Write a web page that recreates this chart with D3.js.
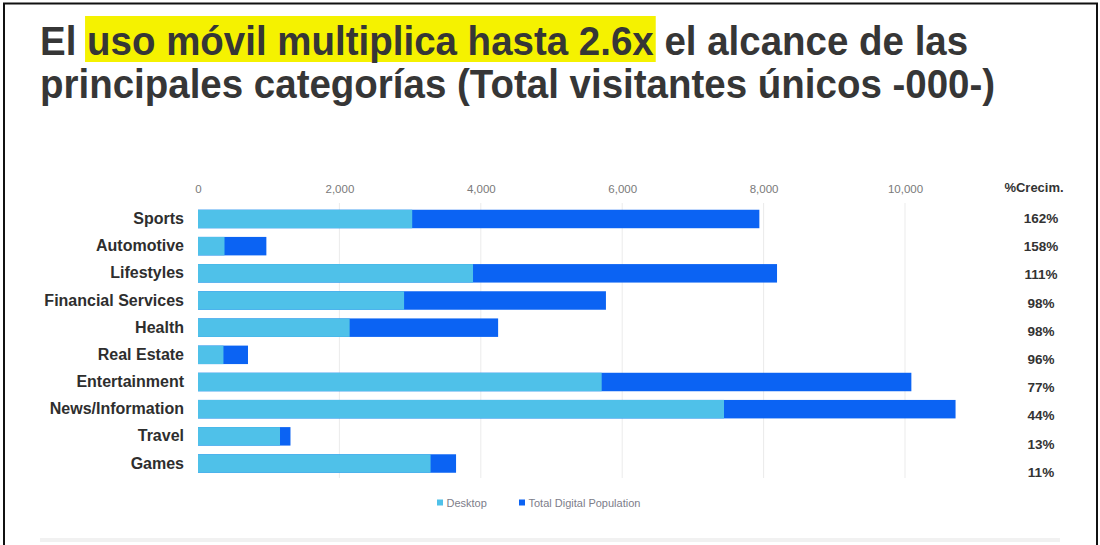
<!DOCTYPE html>
<html>
<head>
<meta charset="utf-8">
<script src="https://cdn.jsdelivr.net/npm/d3@7/dist/d3.min.js"></script>
<style>
  html, body { margin: 0; padding: 0; background: #fff; }
  svg { display: block; }
</style>
</head>
<body>
<svg id="chart" width="1100" height="545"></svg>
<script>
// Categories, top to bottom
const categories = [
  "Sports", "Automotive", "Lifestyles", "Financial Services", "Health",
  "Real Estate", "Entertainment", "News/Information", "Travel", "Games"
];
// Unique visitors (000) reached on desktop only
const desktop = [3030, 375, 3890, 2915, 2145, 360, 5710, 7440, 1160, 3290];
// Unique visitors (000) across the total digital population
const totalDigital = [7940, 967, 8190, 5770, 4245, 707, 10090, 10715, 1308, 3650];
// Growth from desktop to total digital
const growth = ["162%", "158%", "111%", "98%", "98%", "96%", "77%", "44%", "13%", "11%"];
const xTicks = [0, 2000, 4000, 6000, 8000, 10000];
const seriesNames = ["Desktop", "Total Digital Population"];
const titleLine1 = ["El ", "uso móvil multiplica hasta 2.6x", " el alcance de las"];
const titleLine2 = "principales categorías (Total visitantes únicos -000-)";
const growthHeader = "%Crecim.";

const colors = { desktop: "#4fc1e9", total: "#0b63f3" };
const font = "'Liberation Sans', Arial, Helvetica, sans-serif";

const svg = d3.select("#chart");

// Slide frame
svg.append("path")
  .attr("d", "M4,548 V3.5 H1097 V548")
  .attr("fill", "none")
  .attr("stroke", "#111")
  .attr("stroke-width", 2);

// Faint separator at the foot of the slide
svg.append("rect")
  .attr("x", 40).attr("y", 538).attr("width", 1020).attr("height", 4)
  .attr("fill", "#f1f1f1");

// ---- Title ----
const title = svg.append("g").attr("font-family", font).attr("font-weight", "bold").attr("fill", "#363636");
const hlRect = title.append("rect").attr("fill", "#f5f200");
const stretchY = 1.08;
const t1 = title.append("text").attr("x", 0).attr("y", 0).attr("font-size", 36)
  .attr("transform", `translate(40,55) scale(1,${stretchY})`);
t1.selectAll("tspan").data(titleLine1).join("tspan").text(d => d);
// fit the first line to its width on the slide
const w1 = t1.node().getComputedTextLength();
const fs = 36 * 928 / w1;
t1.attr("font-size", fs);
title.append("text").attr("x", 0).attr("y", 0).attr("font-size", fs)
  .attr("transform", `translate(40,98) scale(1,${stretchY})`)
  .text(titleLine2);
// yellow highlight behind the key phrase
const n0 = titleLine1[0].length, n1 = titleLine1[1].length;
const hx0 = 40 + t1.node().getSubStringLength(0, n0);
const hw = t1.node().getSubStringLength(n0, n1);
hlRect.attr("x", hx0 - 2).attr("y", 16).attr("width", hw + 4).attr("height", 46);

// ---- Scales ----
const x = d3.scaleLinear().domain([0, 10000]).range([198, 905]);
const y = d3.scaleBand().domain(categories).range([205.4, 477.1])
  .paddingInner(0.32).paddingOuter(0.16);
const yGrowth = d3.scalePoint().domain(categories).range([218, 472]);

// Gridlines
svg.append("g").selectAll("line")
  .data(xTicks.filter(d => d > 0))
  .join("line")
  .attr("x1", d => x(d)).attr("x2", d => x(d))
  .attr("y1", 203).attr("y2", 478)
  .attr("stroke", "#ebebeb").attr("stroke-width", 1);

// Tick labels along the top
const xAxis = svg.append("g")
  .attr("transform", "translate(0,193)")
  .call(d3.axisTop(x).tickValues(xTicks).tickSize(0).tickPadding(0).tickFormat(d3.format(",")));
xAxis.select(".domain").remove();
xAxis.selectAll("text")
  .attr("font-family", font).attr("font-size", 11.5).attr("fill", "#7a7a7a");

// Category labels
const yAxis = svg.append("g")
  .attr("transform", "translate(184,0)")
  .call(d3.axisLeft(y).tickSize(0).tickPadding(0));
yAxis.select(".domain").remove();
yAxis.selectAll("text")
  .attr("font-family", font).attr("font-size", 16).attr("font-weight", "bold")
  .attr("fill", "#2e2e2e");

// Bars: total digital population behind, desktop share in front
const rows = categories.map((c, i) => ({ c, d: desktop[i], t: totalDigital[i], g: growth[i] }));
svg.append("g").selectAll("rect")
  .data(rows).join("rect")
  .attr("x", x(0)).attr("y", r => y(r.c))
  .attr("width", r => x(r.t) - x(0)).attr("height", y.bandwidth())
  .attr("fill", colors.total);
svg.append("g").selectAll("rect")
  .data(rows).join("rect")
  .attr("x", x(0)).attr("y", r => y(r.c))
  .attr("width", r => x(r.d) - x(0)).attr("height", y.bandwidth())
  .attr("fill", colors.desktop);

// Growth column
const gcol = svg.append("g").attr("font-family", font).attr("font-weight", "bold").attr("fill", "#333");
gcol.append("text").attr("x", 1034).attr("y", 192).attr("text-anchor", "middle")
  .attr("font-size", 13).text(growthHeader);
gcol.selectAll("text.g").data(rows).join("text").attr("class", "g")
  .attr("x", 1041).attr("y", r => yGrowth(r.c)).attr("dy", "0.36em")
  .attr("text-anchor", "middle").attr("font-size", 13.5).text(r => r.g);

// Legend
const legend = svg.append("g").attr("font-family", font).attr("font-size", 11).attr("fill", "#7d7d8a");
const legX = [437, 519];
const legCol = [colors.desktop, colors.total];
seriesNames.forEach((name, i) => {
  legend.append("rect").attr("x", legX[i]).attr("y", 499.5).attr("width", 6).attr("height", 6).attr("fill", legCol[i]);
  legend.append("text").attr("x", legX[i] + 9.5).attr("y", 506.5).text(name);
});
</script>
</body>
</html>
